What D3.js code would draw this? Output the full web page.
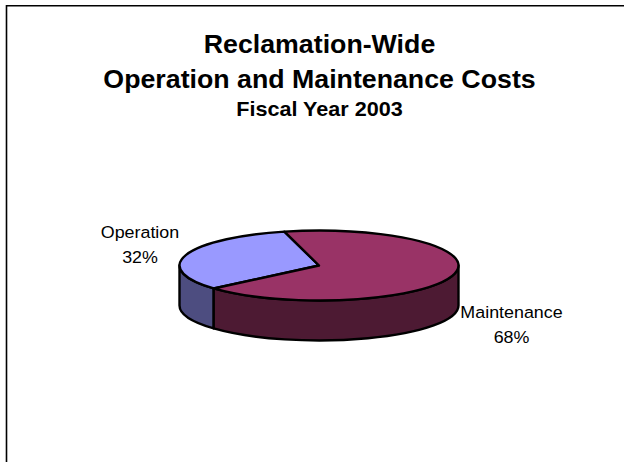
<!DOCTYPE html>
<html><head><meta charset="utf-8">
<style>html,body{margin:0;padding:0;background:#fff}svg{display:block}text{font-family:"Liberation Sans",Arial,sans-serif;fill:#000}</style>
<script src="https://cdn.jsdelivr.net/npm/d3@7"></script></head>
<body><svg id="c" width="624" height="462"></svg>
<script>
const categories=["Operation","Maintenance"];
const values=[32.4,67.6];
const percentLabels=["32%","68%"];
const topColors=["#9999ff","#993366"];
const sideColors=["#4d4d80","#4d1a33"];
const titleLines=["Reclamation-Wide","Operation and Maintenance Costs"];
const subtitle="Fiscal Year 2003";

const svg=d3.select("#c");
const cx=319,cy=265.5,rx=139.5,ry=35,depth=40;
const stretch=1.07;
const place=(x,y)=>`translate(${x},${y}) scale(${stretch},1)`;
svg.append("path").attr("d","M6.5,462V5.7H624").attr("fill","none").attr("stroke","#000").attr("stroke-width",1.6);

const start=-131*Math.PI/180;
const pie=d3.pie().sort(null).startAngle(start).endAngle(start+2*Math.PI)(values);
const px=a=>cx+rx*Math.sin(a), py=a=>cy-ry*Math.cos(a);

function wall(a0,a1){
  const p=`M${px(a0)},${py(a0)}A${rx},${ry} 0 0 ${a1>a0?1:0} ${px(a1)},${py(a1)}`;
  const q=`L${px(a1)},${py(a1)+depth}A${rx},${ry} 0 0 ${a1>a0?0:1} ${px(a0)},${py(a0)+depth}Z`;
  return p+q;
}
const g=svg.append("g").attr("stroke","#000").attr("stroke-width",2.4).attr("stroke-linejoin","round");
const split=pie[0].startAngle;
const walls=[
 {i:0,a0:split,a1:-Math.PI/2},
 {i:1,a0:Math.PI/2,a1:split+2*Math.PI}
];
g.selectAll("path.wall").data(walls).join("path").attr("class","wall")
  .attr("d",d=>wall(d.a0,d.a1)).attr("fill",d=>sideColors[d.i]);

const arc=d3.arc().innerRadius(0).outerRadius(rx);
g.append("g").attr("transform",`translate(${cx},${cy}) scale(1,${ry/rx})`)
 .selectAll("path").data(pie).join("path")
 .attr("d",arc).attr("fill",(d,i)=>topColors[i]).attr("vector-effect","non-scaling-stroke");

const title=svg.append("g").attr("text-anchor","middle").attr("font-weight","bold");
title.selectAll("text").data(titleLines).join("text").attr("transform",(d,i)=>place(319.5,i?87.5:52.7)).attr("font-size",25).text(d=>d);
title.append("text").attr("transform",place(319.5,116.3)).attr("font-size",20.2).text(subtitle);

const labelPos=[[140,237.5],[511.5,318]];
const lab=svg.append("g").attr("text-anchor","middle").attr("font-size",16.7);
categories.forEach((c,i)=>{
  lab.append("text").attr("transform",place(labelPos[i][0],labelPos[i][1])).text(c);
  lab.append("text").attr("transform",place(labelPos[i][0],labelPos[i][1]+25)).text(percentLabels[i]);
});
</script></body></html>
